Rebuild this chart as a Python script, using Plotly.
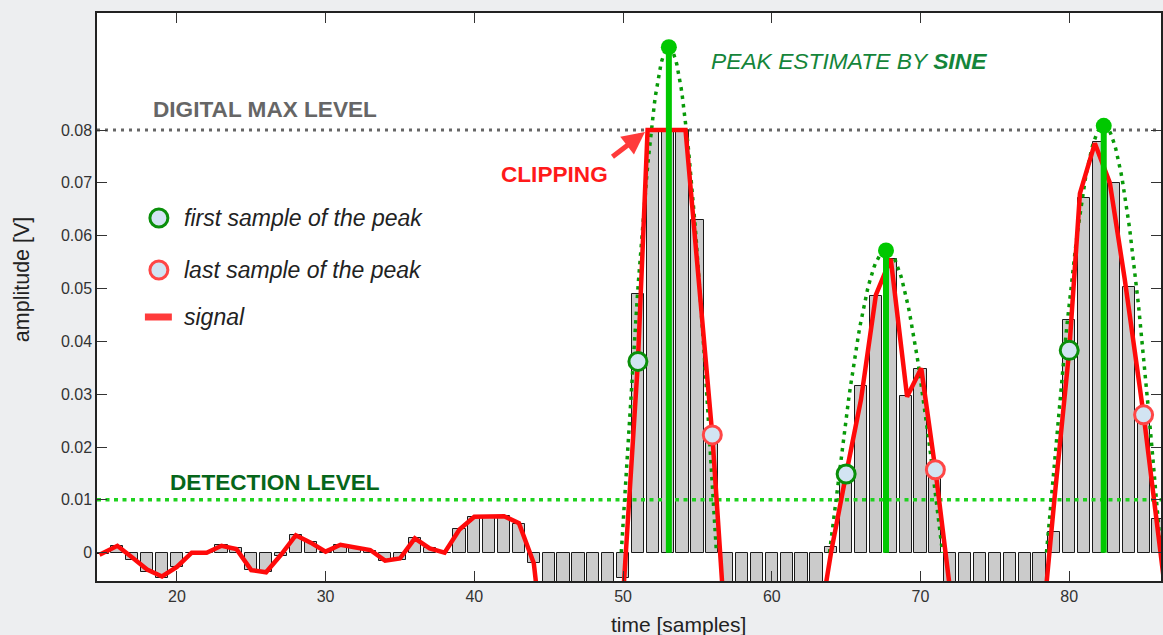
import numpy as np
import plotly.graph_objects as go

# ---------------------------------------------------------------- data
# ADC samples (bars), one per time index
sample_t = list(range(15, 87))
sample_v = [
    -0.0003, 0.0013, -0.0013, -0.0036, -0.0047, -0.0028, 0.0, 0.0, 0.0015, 0.0008,   # 15-24
    -0.0032, -0.0037, -0.0006, 0.0033, 0.0020, 0.0002, 0.0015, 0.0009, 0.0004, -0.0015,  # 25-34
    -0.0013, 0.0027, 0.0008, 0.0, 0.0044, 0.0068, 0.0069, 0.0069, 0.0054, -0.0020,   # 35-44
    -0.026, -0.032, -0.035, -0.030, -0.020, -0.0048, 0.049, 0.080, 0.080, 0.080,     # 45-54
    0.063, 0.022, -0.020, -0.033, -0.040, -0.040, -0.034, -0.028, -0.017, 0.0010,    # 55-64
    0.0149, 0.0316, 0.0486, 0.0556, 0.0296, 0.0347, 0.0160, -0.007, -0.020, -0.030,  # 65-74
    -0.035, -0.035, -0.030, -0.022, 0.0040, 0.044, 0.0671, 0.0778, 0.0700, 0.0503,   # 75-84
    0.0261, 0.0064,                                                                  # 85-86
]

# analog signal (red line)
signal_t = [
    14.8, 16, 17, 18, 19, 20, 21, 22, 23, 24, 25, 26, 27, 28, 29, 30, 31, 32, 33, 34,
    35, 36, 37, 38, 39, 40, 41, 42, 43, 44, 45, 46, 47, 48, 49, 50, 51, 51.65, 54.2, 56,
    57, 58, 59, 60, 61, 62, 63, 64, 65, 66, 67, 67.5, 68, 69.1, 70.05, 71, 72, 73, 74, 75,
    76, 77, 78, 79, 80, 80.72, 81.72, 82.73, 83.73, 85, 86.4,
]
signal_v = [
    -0.0004, 0.0013, -0.0009, -0.0032, -0.0045, -0.0027, 0.0, 0.0, 0.0013, 0.0007,
    -0.0033, -0.0037, -0.0004, 0.0033, 0.0019, 0.0002, 0.0015, 0.0009, 0.0005, -0.0015,
    -0.0011, 0.0027, 0.0008, 0.0, 0.0044, 0.0068, 0.0069, 0.0069, 0.0056, -0.0020,
    -0.027, -0.034, -0.036, -0.030, -0.020, -0.0084, 0.0362, 0.080, 0.080, 0.0223,
    -0.020, -0.033, -0.040, -0.040, -0.034, -0.028, -0.017, 0.0003, 0.0149, 0.029,
    0.0488, 0.0523, 0.0556, 0.0295, 0.0349, 0.0157, -0.0073, -0.020, -0.030, -0.035,
    -0.035, -0.030, -0.020, 0.010, 0.0383, 0.068, 0.0775, 0.070, 0.0518, 0.0261, -0.006,
]

# first / last samples of each detected peak
first_t = [51, 65, 80]
first_v = [0.0362, 0.0149, 0.0383]
last_t = [56, 71, 85]
last_v = [0.0223, 0.0157, 0.0261]

# sine-fit peak estimates: position, amplitude, half width (zero to zero / 2)
peak_t = [53.08, 67.68, 82.32]
peak_v = [0.0957, 0.0572, 0.0808]
peak_halfwidth = [3.2, 3.8, 3.85]

DIGITAL_MAX = 0.08
DETECTION = 0.01

X_RANGE = [14.63, 86.17]
Y_RANGE = [-0.00536, 0.10216]
y_ticks = [0, 0.01, 0.02, 0.03, 0.04, 0.05, 0.06, 0.07, 0.08]
y_ticktext = ["0", "0.01", "0.02", "0.03", "0.04", "0.05", "0.06", "0.07", "0.08"]
x_ticks = [20, 30, 40, 50, 60, 70, 80]

FONT = "Liberation Sans, Arial, Helvetica, sans-serif"
FILL_BLUE = "#d2e4f2"
GREEN_RING = "#0a8f0a"
RED_RING = "#ff4646"

fig = go.Figure()

# samples as bars
fig.add_trace(go.Bar(
    x=sample_t, y=sample_v, width=0.82,
    marker=dict(color="#cbcbcb", line=dict(color="#1a1a1a", width=1)),
    showlegend=False, hoverinfo="skip",
))

# threshold lines
fig.add_trace(go.Scatter(
    x=X_RANGE, y=[DETECTION, DETECTION], mode="lines",
    line=dict(color="#1ed21e", width=3.5, dash="4px,4.5px"),
    showlegend=False, hoverinfo="skip",
))
fig.add_trace(go.Scatter(
    x=X_RANGE, y=[DIGITAL_MAX, DIGITAL_MAX], mode="lines",
    line=dict(color="#666666", width=3, dash="3px,5px"),
    showlegend=False, hoverinfo="skip",
))

# sine estimate of each peak
sx, sy = [], []
for tp, amp, hw in zip(peak_t, peak_v, peak_halfwidth):
    tt = np.linspace(tp - hw, tp + hw, 90)
    sx += list(tt) + [None]
    sy += list(amp * np.cos(np.pi / 2 * (tt - tp) / hw)) + [None]
fig.add_trace(go.Scatter(
    x=sx, y=sy, mode="lines",
    line=dict(color="#089a08", width=3.5, dash="3.5px,5px"),
    showlegend=False, hoverinfo="skip",
))

# signal
fig.add_trace(go.Scatter(
    x=signal_t, y=signal_v, mode="lines",
    line=dict(color="#ff0a0a", width=4.5),
    showlegend=False, hoverinfo="skip",
))

# peak stems
stx, sty = [], []
for tp, amp in zip(peak_t, peak_v):
    stx += [tp, tp, None]
    sty += [0, amp, None]
fig.add_trace(go.Scatter(
    x=stx, y=sty, mode="lines",
    line=dict(color="#00c800", width=6),
    showlegend=False, hoverinfo="skip",
))
fig.add_trace(go.Scatter(
    x=peak_t, y=peak_v, mode="markers",
    marker=dict(color="#00c800", size=16),
    showlegend=False, hoverinfo="skip",
))

# first / last sample markers
fig.add_trace(go.Scatter(
    x=first_t, y=first_v, mode="markers",
    marker=dict(color=FILL_BLUE, size=18, line=dict(color=GREEN_RING, width=3)),
    showlegend=False, hoverinfo="skip",
))
fig.add_trace(go.Scatter(
    x=last_t, y=last_v, mode="markers",
    marker=dict(color=FILL_BLUE, size=18, line=dict(color=RED_RING, width=3)),
    showlegend=False, hoverinfo="skip",
))

# ---------------------------------------------------------------- layout
W, H = 1163, 635
ML, MT, MB, MR = 97, 13, 54, 0
PW, PH = W - ML - MR, H - MT - MB


def px(x):
    return (x - ML) / PW


def py(y):
    return (H - MB - y) / PH


annotations = [
    dict(text="<b>DIGITAL MAX LEVEL</b>", x=px(265), y=py(109), font=dict(size=22.6, color="#666666")),
    dict(text="<b>DETECTION LEVEL</b>", x=px(275), y=py(482), font=dict(size=22.6, color="#06661a")),
    dict(text="<b>CLIPPING</b>", x=px(555), y=py(174), font=dict(size=22.6, color="#ff1a1a")),
    dict(text="<i>PEAK ESTIMATE BY <b>SINE</b></i>", x=px(710), y=py(61), xanchor="left",
         font=dict(size=22.8, color="#14853a")),
    dict(text="<i>first sample of the peak</i>", x=px(182), y=py(218), xanchor="left",
         font=dict(size=23, color="#222222")),
    dict(text="<i>last sample of the peak</i>", x=px(182), y=py(270), xanchor="left",
         font=dict(size=23, color="#222222")),
    dict(text="<i>signal</i>", x=px(182), y=py(317), xanchor="left",
         font=dict(size=23, color="#222222")),
    dict(text="amplitude [V]", x=px(22), y=py(280), textangle=-90,
         font=dict(size=21.5, color="#222222")),
    dict(text="time [samples]", x=px(680), y=py(624), font=dict(size=21, color="#222222")),
]
for a in annotations:
    a.update(xref="paper", yref="paper", showarrow=False)
    a.setdefault("xanchor", "center")
    a.setdefault("yanchor", "middle")

# arrow pointing at the clipped top
annotations.append(dict(
    x=px(646), y=py(132), xref="paper", yref="paper", text="",
    showarrow=True, ax=-34, ay=26, arrowhead=2, arrowsize=0.9, arrowwidth=5,
    arrowcolor="#ff3a3a",
))

# legend glyphs
shapes = [
    dict(type="circle", xref="paper", yref="paper", xsizemode="pixel", ysizemode="pixel",
         xanchor=px(159), yanchor=py(218), x0=-9, x1=9, y0=-9, y1=9,
         fillcolor=FILL_BLUE, line=dict(color=GREEN_RING, width=3)),
    dict(type="circle", xref="paper", yref="paper", xsizemode="pixel", ysizemode="pixel",
         xanchor=px(159), yanchor=py(270), x0=-9, x1=9, y0=-9, y1=9,
         fillcolor=FILL_BLUE, line=dict(color=RED_RING, width=3)),
    dict(type="line", xref="paper", yref="paper", x0=px(145), x1=px(172), y0=py(317), y1=py(317),
         line=dict(color="#ff3b3b", width=7)),
]

axis_common = dict(
    showline=True, linecolor="#222222", linewidth=1.5, mirror="ticks",
    ticks="inside", ticklen=10, tickwidth=1, tickcolor="#333333",
    showgrid=False, zeroline=False,
    tickfont=dict(size=16, color="#333333", family=FONT),
)

fig.update_layout(
    width=W, height=H,
    margin=dict(l=ML, r=MR, t=MT, b=MB),
    paper_bgcolor="#edeef0",
    plot_bgcolor="#ffffff",
    font=dict(family=FONT),
    xaxis=dict(range=X_RANGE, tickvals=x_ticks, **axis_common),
    yaxis=dict(range=Y_RANGE, tickvals=y_ticks, ticktext=y_ticktext, **axis_common),
    annotations=annotations,
    shapes=shapes,
    bargap=0,
    showlegend=False,
)

fig.write_html("out.html", config={"displayModeBar": False})
